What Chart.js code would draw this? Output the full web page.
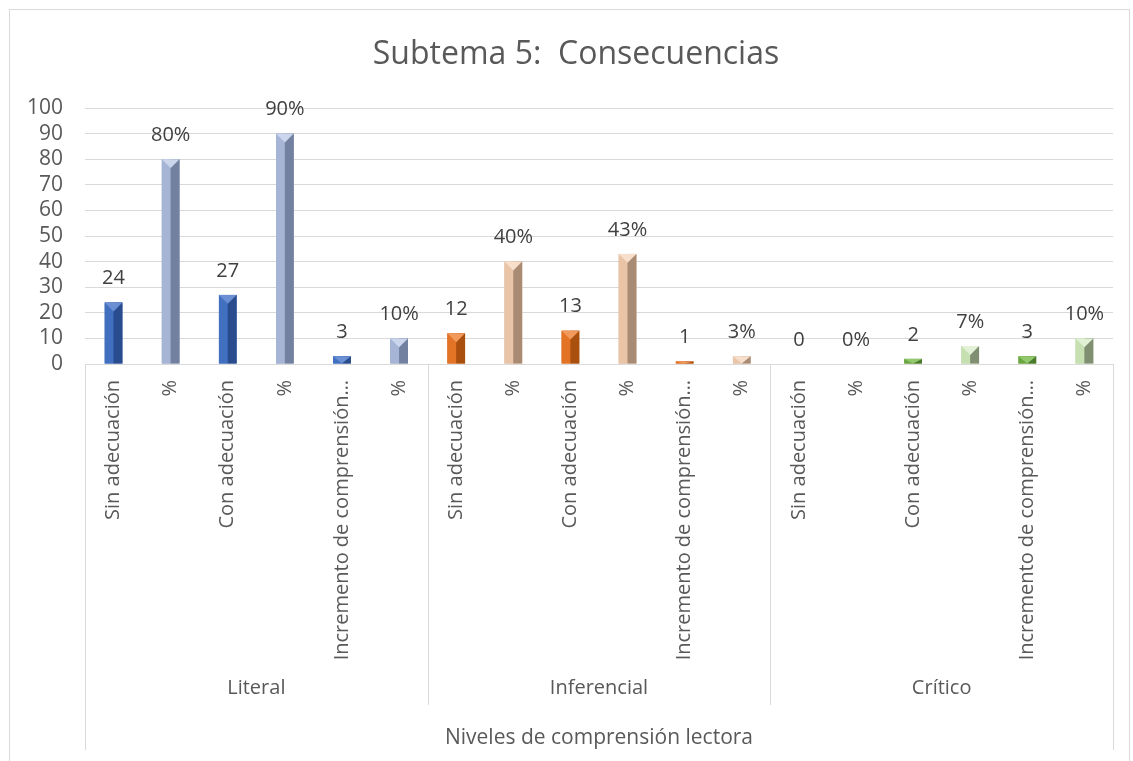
<!DOCTYPE html>
<html>
<head>
<meta charset="utf-8">
<script src="https://cdn.jsdelivr.net/npm/chart.js@4.4.1/dist/chart.umd.min.js"></script>
<style>
    html, body { margin: 0; padding: 0; background: #fff; overflow: hidden; }
    .frame { position: absolute; left: 9px; top: 9px; width: 1119px; height: 800px; border: 1px solid #d9d9d9; }
    .wrap { position: absolute; left: 10px; top: 10px; width: 1118px; height: 751px; }
</style>
</head>
<body>
<div class="frame"></div>
<div class="wrap"><canvas id="chart"></canvas></div>
<script>
// Data
const chartTitle = 'Subtema 5:  Consecuencias';
const axisTitle = 'Niveles de comprensión lectora';
const groups = ['Literal', 'Inferencial', 'Crítico'];
const categories = [
    'Sin adecuación', '%', 'Con adecuación', '%', 'Incremento de comprensión…', '%',
    'Sin adecuación', '%', 'Con adecuación', '%', 'Incremento de comprensión…', '%',
    'Sin adecuación', '%', 'Con adecuación', '%', 'Incremento de comprensión…', '%'
];
const values = [24, 80, 27, 90, 3, 10, 12, 40, 13, 43, 1, 3, 0, 0, 2, 7, 3, 10];
const yMin = 0;
const yMax = 100;
const yStep = 10;

// Colours per group: [count bar, percent bar]
const palette = {
    'Literal': [
        { mid: '#3561b0', light: '#4270c0', dark: '#284c8e', cap: '#6a8fd2' },
        { mid: '#8c9dc0', light: '#a6b5d5', dark: '#72819f', cap: '#cbd6ec' }
    ],
    'Inferencial': [
        { mid: '#d0651c', light: '#e37325', dark: '#a9500f', cap: '#f29a5c' },
        { mid: '#d7b194', light: '#e9c4a7', dark: '#a98b74', cap: '#f7dfcb' }
    ],
    'Crítico': [
        { mid: '#5e9438', light: '#6aa83f', dark: '#4a7a2b', cap: '#92c96c' },
        { mid: '#aec79c', light: '#c6e0b1', dark: '#808f72', cap: '#e2f1d5' }
    ]
};

const perGroup = categories.length / groups.length;
const barStyles = categories.map((c, i) => {
    const g = groups[Math.floor(i / perGroup)];
    return palette[g][c === '%' ? 1 : 0];
});

Chart.defaults.font.family = "'Open Sans', 'Noto Sans', sans-serif";
Chart.defaults.color = '#595959';

// Bevelled bars + value labels
const barLook = {
    id: 'barLook',
    afterDatasetsDraw(chart) {
        const ctx = chart.ctx;
        const meta = chart.getDatasetMeta(0);
        ctx.save();
        meta.data.forEach((bar, i) => {
            const p = bar.getProps(['x', 'y', 'base', 'width'], true);
            const h = p.base - p.y;
            const left = p.x - p.width / 2;
            const right = p.x + p.width / 2;
            const st = barStyles[i];
            if (h > 0.5) {
                ctx.fillStyle = st.light;
                ctx.fillRect(left, p.y, p.width / 2, h);
                ctx.fillStyle = st.dark;
                ctx.fillRect(p.x, p.y, p.width / 2, h);
                const d = Math.min(p.width / 2, h);
                ctx.fillStyle = st.cap;
                ctx.beginPath();
                ctx.moveTo(left, p.y);
                ctx.lineTo(right, p.y);
                ctx.lineTo(p.x, p.y + d);
                ctx.closePath();
                ctx.fill();
            }
            const v = values[i];
            const txt = categories[i] === '%' ? v + '%' : String(v);
            ctx.fillStyle = '#404040';
            ctx.font = "20px 'Open Sans'";
            ctx.textAlign = 'center';
            ctx.textBaseline = 'middle';
            ctx.fillText(txt, p.x, p.y - 24);
        });
        ctx.restore();
    }
};

// Title, multi-level category axis: separators, group names, axis title
const groupAxis = {
    id: 'groupAxis',
    afterDraw(chart) {
        const ctx = chart.ctx;
        const x = chart.scales.x;
        const bottom = chart.chartArea.bottom;
        const n = categories.length;
        const edge = i => {
            if (i === 0) return x.left;
            if (i === n) return x.right;
            return (x.getPixelForValue(i - 1) + x.getPixelForValue(i)) / 2;
        };
        ctx.save();
        ctx.strokeStyle = '#d9d9d9';
        ctx.lineWidth = 1;
        for (let g = 0; g <= groups.length; g++) {
            const px = Math.round(edge(g * perGroup)) + 0.5;
            const outer = g === 0 || g === groups.length;
            ctx.beginPath();
            ctx.moveTo(px, bottom);
            ctx.lineTo(px, bottom + (outer ? 386 : 341));
            ctx.stroke();
        }
        ctx.fillStyle = '#595959';
        ctx.textAlign = 'center';
        ctx.textBaseline = 'middle';
        ctx.font = "32px 'Open Sans'";
        ctx.fillText(chartTitle, chart.width / 2 + 7, 45);
        ctx.font = "20px 'Open Sans'";
        groups.forEach((g, k) => {
            const cx = (edge(k * perGroup) + edge((k + 1) * perGroup)) / 2;
            ctx.fillText(g, cx, bottom + 324);
        });
        ctx.font = "21px 'Open Sans'";
        ctx.fillText(axisTitle, (x.left + x.right) / 2, bottom + 374);
        ctx.restore();
    }
};

const ctx = document.getElementById('chart');
new Chart(ctx, {
    type: 'bar',
    data: {
        labels: categories,
        datasets: [{
            data: values,
            backgroundColor: barStyles.map(s => s.mid),
            borderWidth: 0,
            categoryPercentage: 1,
            barPercentage: 0.31
        }]
    },
    options: {
        responsive: true,
        maintainAspectRatio: false,
        animation: false,
        layout: {
            padding: { left: 0, right: 15, top: 98, bottom: 96 }
        },
        plugins: {
            legend: { display: false },
            tooltip: { enabled: false },
            title: { display: false }
        },
        scales: {
            y: {
                min: yMin,
                max: yMax,
                afterFit: function(scale) { scale.width = 75; },
                ticks: {
                    stepSize: yStep,
                    autoSkip: false,
                    padding: 22,
                    color: '#595959',
                    font: { size: 21 }
                },
                grid: {
                    color: '#d9d9d9',
                    drawTicks: false
                },
                border: { display: false }
            },
            x: {
                afterFit: function(scale) { scale.height = 301; },
                ticks: {
                    autoSkip: false,
                    minRotation: 90,
                    maxRotation: 90,
                    padding: 16,
                    color: '#595959',
                    font: { size: 20 }
                },
                grid: {
                    display: false,
                    drawTicks: false
                },
                border: { display: true, color: '#d9d9d9' }
            }
        }
    },
    plugins: [barLook, groupAxis]
});
</script>
</body>
</html>
